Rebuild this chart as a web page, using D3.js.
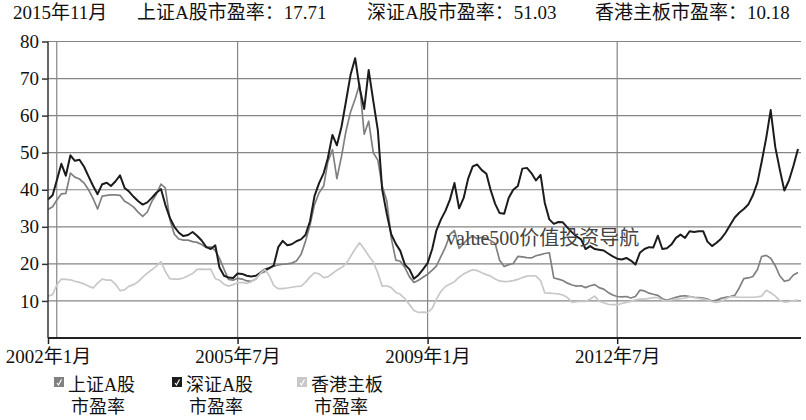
<!DOCTYPE html>
<html>
<head>
<meta charset="utf-8">
<script src="https://cdn.jsdelivr.net/npm/d3@7"></script>
<style>
  body { margin: 0; background: #fff; }
  text { font-family: "Liberation Serif", "Noto Sans CJK SC", serif; fill: #111; }
</style>
</head>
<body>
<div id="chart"></div>
<script>
// monthly P/E, 2002-01 .. 2015-11
const startMonth = '2002-01'
const endMonth = '2015-12'

const shA = [
  34.7,35.4,37.2,38.9,39.0,44.5,43.4,42.9,41.8,40.0,
  37.6,34.8,38.3,38.5,38.6,38.6,38.5,36.9,36.2,35.3,
  33.9,32.8,34.0,36.8,38.8,41.5,40.5,32.0,28.0,26.7,
  26.4,26.4,26.0,25.8,25.2,24.4,24.6,23.6,21.5,18.5,
  15.8,15.6,16.1,15.9,15.4,15.3,15.9,17.4,17.9,18.8,
  19.4,19.7,19.9,20.0,20.2,20.8,22.5,26.0,30.5,36.0,
  39.2,41.0,47.5,50.8,43.0,49.0,55.8,61.0,64.5,68.5,
  55.0,58.5,50.0,48.0,41.0,37.0,27.0,21.0,20.7,19.0,
  16.5,15.0,15.6,16.4,17.2,18.3,19.4,22.0,24.5,28.0,
  29.0,24.2,25.5,26.8,27.5,26.8,27.2,26.8,26.3,25.5,
  21.0,19.3,19.8,20.1,22.0,21.9,21.7,21.6,22.2,22.5,
  22.8,23.0,16.2,15.9,15.5,14.8,14.3,14.0,14.1,13.6,
  14.1,14.4,13.6,13.2,12.3,11.6,11.2,11.1,11.2,10.8,
  11.2,12.9,12.7,12.1,11.8,11.5,10.6,10.2,10.6,11.0,
  11.3,11.4,11.2,11.0,10.9,10.8,10.5,9.9,10.2,10.7,
  11.0,11.2,11.5,13.5,16.0,16.2,16.6,18.5,22.0,22.3,
  21.5,19.5,16.8,15.3,15.6,17.0,17.7
]

const szA = [
  37.4,38.5,42.5,47.0,43.8,49.3,47.8,48.1,46.2,43.6,
  41.0,38.8,41.5,41.9,41.0,42.3,43.9,40.5,39.5,38.1,
  36.9,36.0,36.6,37.8,39.2,40.2,36.0,32.4,30.0,28.4,
  27.5,27.8,28.6,27.6,26.3,24.6,24.0,25.0,19.0,16.8,
  16.3,16.2,17.4,17.3,16.8,16.6,16.8,17.6,18.5,18.9,
  19.5,24.5,26.2,25.0,25.3,26.1,26.6,27.8,31.5,38.3,
  41.8,44.5,48.5,54.8,52.0,57.0,63.8,71.0,75.5,67.5,
  61.8,72.3,64.0,56.0,40.1,33.5,28.0,25.4,23.5,19.8,
  18.5,16.0,17.0,18.5,20.2,24.0,29.0,32.0,34.3,37.4,
  41.8,35.0,37.8,43.0,46.3,46.8,45.3,44.3,40.0,36.2,
  33.7,33.5,37.8,40.0,41.0,45.7,45.9,44.5,42.5,44.0,
  36.5,32.0,30.8,31.3,31.2,29.8,28.5,27.4,26.6,24.0,
  24.8,24.0,23.8,23.6,22.8,22.0,21.4,21.2,21.6,20.9,
  19.8,23.0,24.0,24.5,24.4,27.6,24.0,24.2,25.2,27.0,
  27.9,27.0,28.8,28.6,28.8,28.8,26.0,24.8,25.7,26.8,
  28.4,30.5,32.5,33.8,34.8,36.0,38.5,42.0,47.5,54.0,
  61.5,51.5,45.5,39.8,42.5,46.4,51.0
]

const hkMain = [
  11.3,11.7,14.3,15.9,15.8,15.7,15.3,15.0,14.6,14.0,
  13.5,14.8,15.9,15.6,15.6,14.5,12.8,13.0,14.0,14.4,
  15.2,16.4,17.5,18.4,19.4,20.6,18.0,16.0,15.9,15.9,
  16.2,16.8,17.4,18.5,18.6,18.5,18.6,16.0,15.6,14.5,
  14.0,14.4,14.9,15.0,14.7,15.2,16.0,17.4,18.5,16.7,
  14.2,13.3,13.3,13.5,13.7,13.9,14.0,15.0,16.5,17.6,
  17.3,16.3,16.5,17.4,18.3,19.0,20.0,22.0,24.0,25.7,
  24.0,22.2,20.5,17.5,14.0,14.1,13.6,12.3,11.8,10.6,
  9.0,7.4,6.9,7.0,6.9,8.0,10.5,12.6,13.9,14.6,
  15.2,16.4,17.3,17.9,18.4,18.2,17.6,17.1,16.7,15.9,
  15.4,15.2,15.3,15.5,15.8,16.3,16.7,16.8,16.7,15.5,
  12.2,12.1,12.0,11.9,11.6,10.9,9.6,9.8,9.9,9.9,
  10.5,11.3,9.9,9.5,9.1,9.0,9.0,9.3,9.6,9.9,
  10.3,10.5,10.5,10.7,10.9,10.9,10.2,9.9,10.3,10.5,
  10.6,10.8,11.1,10.9,10.7,10.5,10.3,9.8,9.6,9.9,
  10.5,11.1,11.1,11.0,11.0,11.0,11.0,11.1,11.3,12.9,
  12.2,11.3,10.1,9.7,9.8,10.1,10.2
]

const seriesNames = ['上证A股\n市盈率', '深证A股\n市盈率', '香港主板\n市盈率']
const seriesColors = ['#808080', '#1c1c1c', '#c8c8c8']
const titleParts = ['2015年11月', '上证A股市盈率：17.71', '深证A股市盈率：51.03', '香港主板市盈率：10.18']
const xTickDates = ['2002-01', '2005-07', '2009-01', '2012-07']
const xTickLabels = ['2002年1月', '2005年7月', '2009年1月', '2012年7月']
const xGridDates = ['2002-03', '2005-07', '2009-01', '2012-07']
const yTicks = [10, 20, 30, 40, 50, 60, 70, 80]
const watermark = 'value500价值投资导航'

const w = 806, h = 420
const parse = d3.timeParse('%Y-%m')
const months = d3.timeMonth.range(parse(startMonth), parse(endMonth))

const svg = d3.select('#chart').append('svg')
              .attr('width', w)
              .attr('height', h)

const xScale = d3.scaleTime()
                 .domain([months[0], months[months.length - 1]])
                 .range([48, 798])

const yScale = d3.scaleLinear()
                 .domain([0, 80])
                 .range([338, 41.5])

const plotRight = 801

// title
const titleX = [13, 137, 367, 595]
svg.selectAll('.title')
   .data(titleParts)
   .enter()
   .append('text')
   .attr('x', (d, i) => titleX[i])
   .attr('y', 19)
   .style('font-size', '19px')
   .text(d => d)

// grid
svg.append('g')
   .selectAll('line')
   .data(yTicks)
   .enter()
   .append('line')
   .attr('x1', 48).attr('x2', plotRight)
   .attr('y1', d => yScale(d)).attr('y2', d => yScale(d))
   .attr('stroke', '#858585')
   .attr('stroke-width', 1.2)

svg.append('g')
   .selectAll('line')
   .data(xGridDates)
   .enter()
   .append('line')
   .attr('x1', d => xScale(parse(d))).attr('x2', d => xScale(parse(d)))
   .attr('y1', yScale(80)).attr('y2', yScale(0))
   .attr('stroke', '#858585')
   .attr('stroke-width', 1.2)

// lines
const line = d3.line()
               .x((d, i) => xScale(months[i]))
               .y(d => yScale(d))

const allSeries = [shA, szA, hkMain]
svg.selectAll('.series')
   .data(allSeries)
   .enter()
   .append('path')
   .attr('d', d => line(d))
   .attr('fill', 'none')
   .attr('stroke', (d, i) => seriesColors[i])
   .attr('stroke-width', (d, i) => i == 1 ? 2 : 1.7)
   .attr('stroke-linejoin', 'round')

// axes
const yAxis = svg.append('g')
                 .attr('transform', 'translate(48,0)')
                 .call(d3.axisLeft(yScale).tickValues(yTicks).tickSize(6).tickPadding(3))
yAxis.select('.domain').attr('stroke', '#333').attr('stroke-width', 1.5)
     .attr('d', 'M0,' + yScale(80) + 'V' + yScale(0))
yAxis.selectAll('.tick line').attr('stroke', '#333').attr('stroke-width', 1.5)
yAxis.selectAll('.tick text').style('font-size', '19px')
     .style('font-family', '"Liberation Serif", serif').attr('fill', '#111')

svg.append('line')
   .attr('x1', 48).attr('x2', plotRight)
   .attr('y1', yScale(0)).attr('y2', yScale(0))
   .attr('stroke', '#222')
   .attr('stroke-width', 2)

const xAxis = svg.append('g')
                 .attr('transform', 'translate(0,' + yScale(0) + ')')
                 .call(d3.axisBottom(xScale)
                         .tickValues(xTickDates.map(parse))
                         .tickFormat((d, i) => xTickLabels[i])
                         .tickSize(6)
                         .tickPadding(6))
xAxis.select('.domain').remove()
xAxis.selectAll('.tick line').attr('stroke', '#222').attr('stroke-width', 1.5)
xAxis.selectAll('.tick text').style('font-size', '19px')
     .style('font-family', '"Liberation Serif", "Noto Sans CJK SC", serif').attr('fill', '#111')

// watermark
svg.append('text')
   .attr('x', 446)
   .attr('y', 245)
   .style('font-size', '20px')
   .style('fill', '#444')
   .text(watermark)

// legend
const legendX = [54, 172, 297]
const legend = svg.selectAll('.legend')
                  .data(seriesNames)
                  .enter()
                  .append('g')
                  .attr('transform', (d, i) => 'translate(' + legendX[i] + ',377)')

legend.append('rect')
      .attr('width', 10).attr('height', 10)
      .attr('fill', (d, i) => seriesColors[i])

legend.append('path')
      .attr('d', 'M3,6 L4.5,8 L7.5,2.5')
      .attr('fill', 'none')
      .attr('stroke', '#fff')
      .attr('stroke-width', 1.2)

legend.append('text')
      .attr('x', 14)
      .attr('y', 0)
      .style('font-size', '18px')
      .selectAll('tspan')
      .data(d => d.split('\n'))
      .enter()
      .append('tspan')
      .attr('x', (d, i) => i == 0 ? 14 : 17)
      .attr('y', (d, i) => 14 + i * 22)
      .text(d => d)
</script>
</body>
</html>
